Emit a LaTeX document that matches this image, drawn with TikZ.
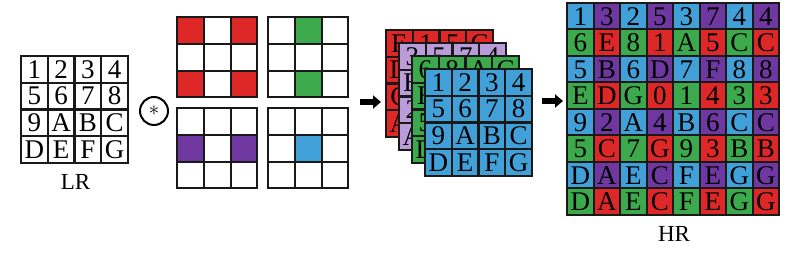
\documentclass[tikz,border=0pt]{standalone}
\usepackage{fontspec}
\setmainfont{Liberation Serif}
\usepackage{tikz}
\usetikzlibrary{arrows.meta, positioning}
\usepackage{xcolor}
\definecolor{cellblue}{RGB}{66, 160, 216}
\definecolor{cellpurple}{RGB}{110, 56, 160}
\definecolor{cellgreen}{RGB}{60, 170, 76}
\definecolor{cellred}{RGB}{222, 40, 40}
\definecolor{celllilac}{RGB}{186, 156, 216}

\begin{document}
\begin{tikzpicture}[x=1pt, y=-1pt,
    cell/.style={rectangle, draw=black!90, line width=2pt, minimum size=26.7pt, inner sep=0pt,
      text height=17.6pt, text depth=0pt, font=\fontsize{27}{27}\selectfont},
    kcell/.style={rectangle, draw=black!90, line width=2pt, minimum size=26.8pt, inner sep=0pt},
    biglabel/.style={font=\fontsize{23}{23}\selectfont, inner sep=0pt},
    fatarrow/.style={line width=6pt, -{Triangle[length=8pt, width=13pt]}}]
    \useasboundingbox (0,0) rectangle (800,253);

    % LR input
    \foreach \t [count=\k from 0] in {1,2,3,4,5,6,7,8,9,A,B,C,D,E,F,G} {
      \pgfmathtruncatemacro\rw{\k/4}
      \pgfmathtruncatemacro\cl{mod(\k,4)}
      \node[cell, fill=white] (lr-\rw-\cl) at ({21+(\cl+0.5)*26.75}, {56+(\rw+0.5)*26.75}) {\t};
    }
    \node[biglabel, below=10pt of lr-3-1.south east] (lrlab) {LR};

    \node[circle, draw, line width=2pt, minimum size=28pt, inner sep=0pt,
      font=\fontsize{22}{22}\selectfont] (conv) at (154,111) {\raisebox{1.5pt}{$\ast$}};

    % kernels
    \foreach \kn/\kx/\ky/\pat in {
        kr/177/17/{cellred,white,cellred,white,white,white,cellred,white,cellred},
        kg/268/17/{white,cellgreen,white,white,white,white,white,cellgreen,white},
        kp/177/108/{white,white,white,cellpurple,white,cellpurple,white,white,white},
        kb/268/108/{white,white,white,white,cellblue,white,white,white,white}} {
      \foreach \f [count=\k from 0] in \pat {
        \pgfmathtruncatemacro\rw{\k/3}
        \pgfmathtruncatemacro\cl{mod(\k,3)}
        \node[kcell, fill=\f] (\kn-\rw-\cl) at ({\kx+(\cl+0.5)*26.8}, {\ky+(\rw+0.5)*26.8}) {};
      }
    }

    % feature map stack, back to front
    \foreach \ln/\lx/\ly/\lcol/\ltext in {
        sr/386/30/cellred/{E,1,5,C,D,0,4,3,C,G,3,B,A,C,E,G},
        sp/399/43/celllilac/{3,5,7,4,B,D,F,8,2,4,6,C,A,C,E,G},
        sg/412/56/cellgreen/{6,8,A,C,E,G,1,3,5,7,9,B,D,E,F,G},
        sb/425/69/cellblue/{1,2,3,4,5,6,7,8,9,A,B,C,D,E,F,G}} {
      \foreach \t [count=\k from 0] in \ltext {
        \pgfmathtruncatemacro\rw{\k/4}
        \pgfmathtruncatemacro\cl{mod(\k,4)}
        \node[cell, fill=\lcol] (\ln-\rw-\cl) at ({\lx+(\cl+0.5)*26.75}, {\ly+(\rw+0.5)*26.75}) {\t};
      }
    }

    % HR output
    \foreach \t [count=\k from 0] in {1,3,2,5,3,7,4,4,6,E,8,1,A,5,C,C,5,B,6,D,7,F,8,8,E,D,G,0,1,4,3,3,
        9,2,A,4,B,6,C,C,5,C,7,G,9,3,B,B,D,A,E,C,F,E,G,G,D,A,E,C,F,E,G,G} {
      \pgfmathtruncatemacro\rw{\k/8}
      \pgfmathtruncatemacro\cl{mod(\k,8)}
      \pgfmathtruncatemacro\ci{2*mod(\rw,2)+mod(\cl,2)}
      \ifcase\ci \def\hc{cellblue}\or \def\hc{cellpurple}\or \def\hc{cellgreen}\or \def\hc{cellred}\fi
      \node[cell, fill=\hc, minimum size=26.5pt] (hr-\rw-\cl) at ({567+(\cl+0.5)*26.5}, {3+(\rw+0.5)*26.5}) {\t};
    }
    \node[biglabel, below=10pt of hr-7-3.south east] (hrlab) {HR};

    \coordinate (a1s) at (360,102);
    \coordinate (a1e) at (381,102);
    \coordinate (a2s) at (542,101);
    \coordinate (a2e) at (563,101);
    \draw[fatarrow] (a1s) -- (a1e);
    \draw[fatarrow] (a2s) -- (a2e);
  \end{tikzpicture}
\end{document}
